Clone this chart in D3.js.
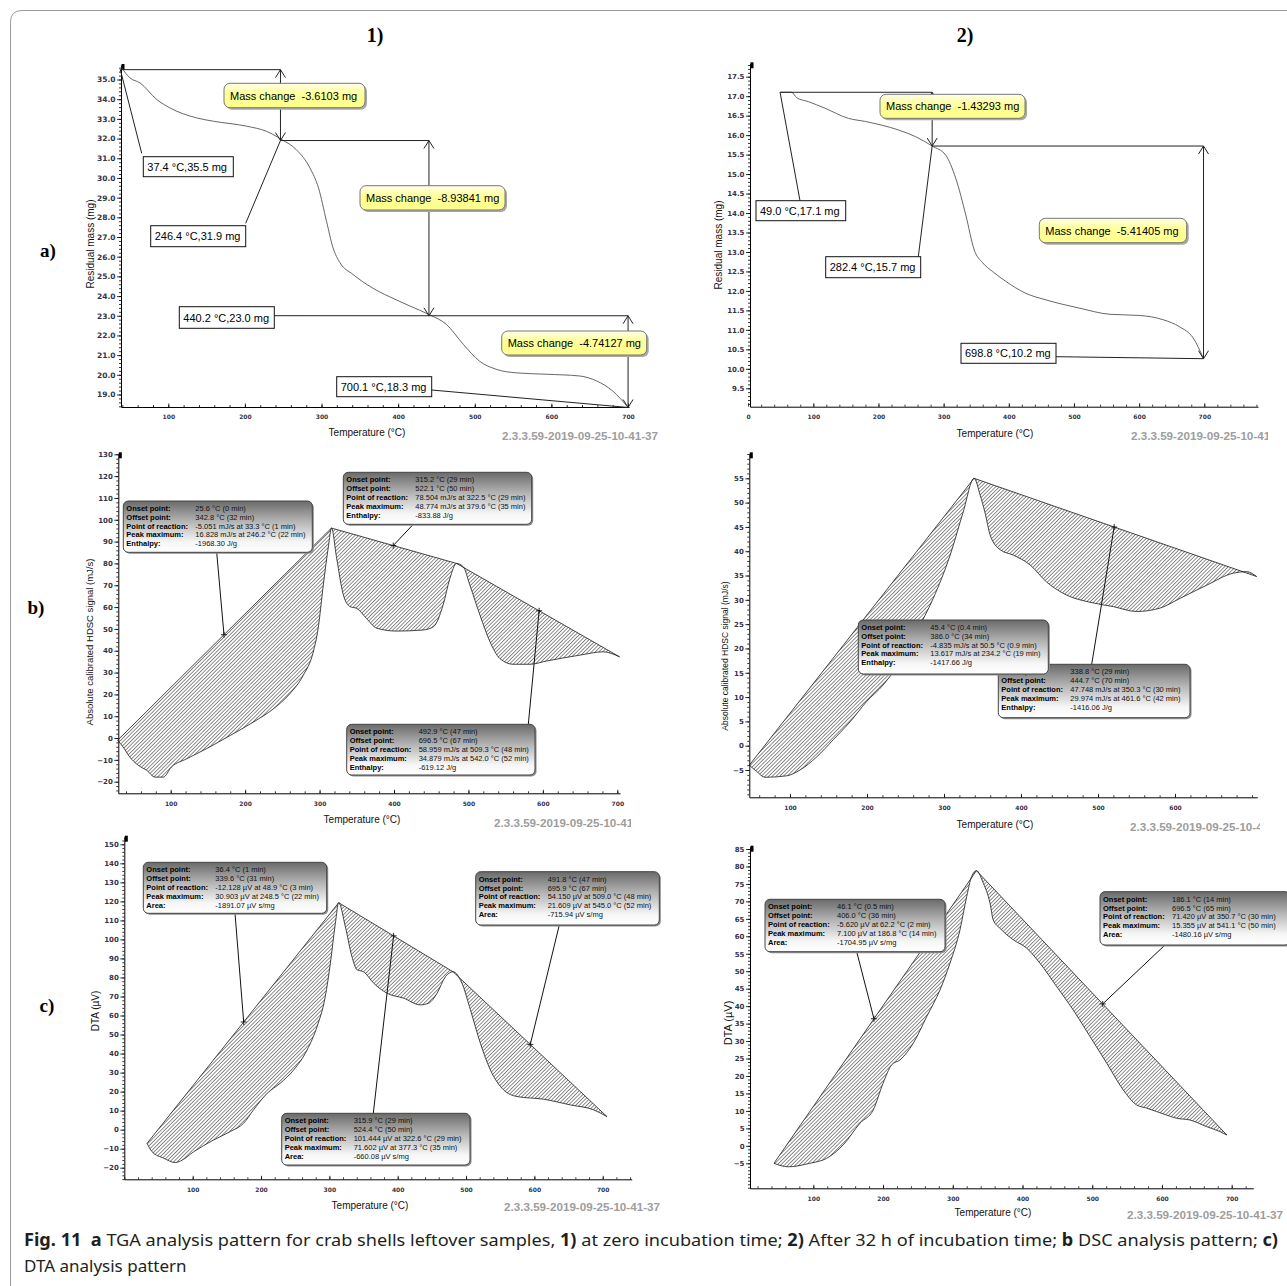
<!DOCTYPE html>
<html>
<head>
<meta charset="utf-8">
<script src="https://cdn.jsdelivr.net/npm/d3@7"></script>
<style>
body { margin: 0; background: #fff; }
svg { display: block; }
</style>
</head>
<body>
<div id="fig"></div>
<script>
// ---------- data ----------
// TGA curves: [temperature °C, residual mass mg]
var tga1 = [[39,35.6],[50,35.08],[63,34.83],[85,33.98],[102,33.56],[137,33.05],[159,32.88],[202,32.63],
  [228,32.37],[248,31.95],[267,31.44],[285,30.5],[296,29.5],[306.5,27.8],[315,26.45],[324,25.7],[341,25.1],
  [367,24.4],[398,23.8],[415,23.5],[441,23.05],[463,22.56],[485,21.55],[506,20.7],[528,20.28],[554,20.1],
  [593,20.03],[637,19.94],[659,19.69],[680,19.18],[700.1,18.34]];
var tga2 = [[49,17.1],[66.8,17.1],[74.5,16.96],[92.4,16.86],[118,16.69],[154,16.43],[180,16.35],[231,16.13],
  [257,15.96],[282.4,15.72],[303,15.49],[318.6,14.89],[334,13.95],[347,13.05],[360,12.72],[375,12.5],
  [395,12.25],[426,11.94],[457,11.77],[508,11.56],[555,11.4],[601,11.37],[637,11.26],[662,11.08],
  [683,10.79],[698.8,10.26]];
// TGA step points (from the labels)
var tgaSteps1 = [[37.4,35.5],[246.4,31.9],[440.2,23.0],[700.1,18.34]];
var tgaSteps2 = [[49.0,17.1],[282.4,15.72],[698.8,10.26]];
var tgaLabels1 = ["37.4 °C,35.5 mg","246.4 °C,31.9 mg","440.2 °C,23.0 mg","700.1 °C,18.3 mg"];
var tgaLabels2 = ["49.0 °C,17.1 mg","282.4 °C,15.7 mg","698.8 °C,10.2 mg"];
var massChange1 = ["Mass change  -3.6103 mg","Mass change  -8.93841 mg","Mass change  -4.74127 mg"];
var massChange2 = ["Mass change  -1.43293 mg","Mass change  -5.41405 mg"];

// DSC curves: [temperature °C, signal mJ/s]
var dsc1 = [[28.7,-1],[36,-4.1],[45,-8.7],[56.5,-12.5],[67.7,-14.8],[78.9,-17.9],[90,-17.9],[101,-13.3],
  [121.5,-9.5],[148,-4.9],[180,1.2],[211,7.3],[238,13.4],[260,20.3],[278,28.7],[291.5,39.4],[298,50],
  [305,70],[312,88],[316,96.2],[323,82.3],[332,65.5],[341,60.2],[350,59.4],[363,54.8],[377,50.3],
  [403.5,49],[439,49.5],[453,51],[466,61],[475,73],[484,80],[493,78.5],[502,70],[515.5,56.3],[529,44.1],
  [542,36.5],[560,33.8],[582.7,33.8],[605,35.3],[650,38],[681,39.5],[703,37.2]];
var dscBase1 = [[28.7,-1],[316,96.2],[484,80],[703,37.2]];
var dsc2 = [[47.2,-4],[56.7,-5.3],[67.5,-6.5],[95.7,-6.2],[113,-5],[134.7,-2.3],[156,1.2],[178,4.9],
  [199.6,9.1],[221,12.5],[243,17.3],[264.5,23.5],[286,30.3],[308,39.2],[325,48.1],[339,55],[347,51.5],
  [353,48.1],[360,43.3],[373,40.3],[390,39.2],[411.7,37.2],[433,33.7],[459,31],[489.6,29.5],[520,28.6],
  [550,27.6],[580.5,28.3],[606.5,30.3],[641,33],[676,35.5],[693,35.8],[706,34.8]];
var dscBase2 = [[47.2,-4],[339,55],[706,34.8]];

// DTA curves: [temperature °C, signal µV]
var dta1 = [[33.2,-7.2],[40.5,-11.6],[57.5,-15],[74.6,-17.3],[82,-16.5],[101.5,-11.6],[130.7,-5.4],
  [155,-1],[174.6,3.4],[189,10.4],[209,19.1],[228,24.4],[247.8,31.4],[267.4,41.9],[282,54.2],[294,69.9],
  [301.5,87.5],[308.8,108.5],[313.6,119.3],[323.4,106.7],[333,91],[340.5,84],[350,83],[364.8,77],
  [384.4,71.7],[408.8,69.1],[433,65.6],[445.4,66.5],[457.6,71.7],[469.8,80.4],[481,83],[494,77],
  [506.4,63],[521,45.4],[535.6,31.4],[555,20.9],[574.7,17.4],[613.6,16],[652.7,13],[686.8,10.4],[706.4,6.8]];
var dtaBase1 = [[33.2,-7.2],[313.6,119.3],[481,83],[706.4,6.8]];
var dta2 = [[43.6,-5],[64,-6],[95,-5],[119,-3.6],[143,0.3],[167,6.5],[186,10.3],[200,17.9],[212.4,23.2],
  [224.3,24.6],[243.4,29.4],[262.6,37],[281.6,44.6],[296,52.3],[310.3,61.8],[320,71.4],[327,77.1],
  [334,78.8],[343.8,75.2],[353.4,69.5],[358,64.7],[367.7,62.3],[386.8,59],[406,56.6],[425,52.3],
  [449,45.6],[472.8,38.9],[496.8,31.3],[520.7,23.7],[544.5,16],[563.7,11.7],[578,10.8],[606.8,8.8],
  [621,7.9],[640,7.4],[664,5.5],[683,4.1],[693,3.1]];
var dtaBase2 = [[43.6,-5],[334,78.8],[693,3.1]];

// leader marks on the baselines (temperature)
var dscMarks1 = [171.6, 399, 595];
var dscMarks2 = [521];
var dtaMarks1 = [174.6, 394, 594];
var dtaMarks2 = [187, 515];

// peak report boxes
var dscKeys = ["Onset point:","Offset point:","Point of reaction:","Peak maximum:","Enthalpy:"];
var dtaKeys = ["Onset point:","Offset point:","Point of reaction:","Peak maximum:","Area:"];
var dscText1 = [
  ["25.6 °C (0 min)","342.8 °C (32 min)","-5.051 mJ/s at 33.3 °C (1 min)","16.828 mJ/s at 246.2 °C (22 min)","-1968.30 J/g"],
  ["315.2 °C (29 min)","522.1 °C (50 min)","78.504 mJ/s at 322.5 °C (29 min)","48.774 mJ/s at 379.6 °C (35 min)","-833.88 J/g"],
  ["492.9 °C (47 min)","696.5 °C (67 min)","58.959 mJ/s at 509.3 °C (48 min)","34.879 mJ/s at 542.0 °C (52 min)","-619.12 J/g"]];
var dscText2 = [
  ["338.8 °C (29 min)","444.7 °C (70 min)","47.748 mJ/s at 350.3 °C (30 min)","29.974 mJ/s at 461.6 °C (42 min)","-1416.06 J/g"],
  ["45.4 °C (0.4 min)","386.0 °C (34 min)","-4.835 mJ/s at 50.5 °C (0.9 min)","13.617 mJ/s at 234.2 °C (19 min)","-1417.66 J/g"]];
var dtaText1 = [
  ["36.4 °C (1 min)","339.6 °C (31 min)","-12.128 µV at 48.9 °C (3 min)","30.903 µV at 248.5 °C (22 min)","-1891.07 µV s/mg"],
  ["315.9 °C (29 min)","524.4 °C (50 min)","101.444 µV at 322.6 °C (29 min)","71.602 µV at 377.3 °C (35 min)","-660.08 µV s/mg"],
  ["491.8 °C (47 min)","695.9 °C (67 min)","54.150 µV at 509.0 °C (48 min)","21.609 µV at 545.0 °C (52 min)","-715.94 µV s/mg"]];
var dtaText2 = [
  ["46.1 °C (0.5 min)","406.0 °C (36 min)","-5.620 µV at 62.2 °C (2 min)","7.100 µV at 186.8 °C (14 min)","-1704.95 µV s/mg"],
  ["186.1 °C (14 min)","696.5 °C (65 min)","71.420 µV at 350.7 °C (30 min)","15.355 µV at 541.1 °C (50 min)","-1480.16 µV s/mg"]];

// tick labels
var tempTicks = [100,200,300,400,500,600,700];
var tempTicks0 = [0,100,200,300,400,500,600,700];
var tempTicks6 = [100,200,300,400,500,600];
var massTicks1 = [19,20,21,22,23,24,25,26,27,28,29,30,31,32,33,34,35];
var massTicks2 = [9.5,10,10.5,11,11.5,12,12.5,13,13.5,14,14.5,15,15.5,16,16.5,17,17.5];
var dscTicks1 = [-20,-10,0,10,20,30,40,50,60,70,80,90,100,110,120,130];
var dscTicks2 = [-5,0,5,10,15,20,25,30,35,40,45,50,55];
var dtaTicks1 = [-20,-10,0,10,20,30,40,50,60,70,80,90,100,110,120,130,140,150];
var dtaTicks2 = [-5,0,5,10,15,20,25,30,35,40,45,50,55,60,65,70,75,80,85];

var stamp = "2.3.3.59-2019-09-25-10-41-37";

// ---------- drawing ----------
var svg = d3.select("#fig").append("svg")
    .attr("width", 1287)
    .attr("height", 1286)
    .style("font-family", "'Liberation Sans', Arial, sans-serif");

var defs = svg.append("defs");
defs.append("pattern")
    .attr("id", "hatch")
    .attr("patternUnits", "userSpaceOnUse")
    .attr("width", 2.6).attr("height", 10)
    .attr("patternTransform", "rotate(45)")
  .append("line")
    .attr("x1", 0.4).attr("y1", 0).attr("x2", 0.4).attr("y2", 10)
    .attr("stroke", "#2a2a2a").attr("stroke-width", 0.6);

var gg = defs.append("linearGradient").attr("id", "boxGrad")
    .attr("x1", 0).attr("y1", 0).attr("x2", 0).attr("y2", 1);
[[0, "#6a6a6a"], [0.4, "#b4b4b4"], [0.8, "#f6f6f6"], [1, "#ffffff"]].forEach(function (s) {
    gg.append("stop").attr("offset", s[0]).attr("stop-color", s[1]);
});
var yg = defs.append("linearGradient").attr("id", "yelGrad")
    .attr("x1", 0).attr("y1", 0).attr("x2", 0).attr("y2", 1);
[[0, "#ffffe8"], [0.4, "#ffff9e"], [1, "#ffff88"]].forEach(function (s) {
    yg.append("stop").attr("offset", s[0]).attr("stop-color", s[1]);
});
defs.append("clipPath").attr("id", "clipA2").append("rect")
    .attr("x", 1100).attr("y", 420).attr("width", 168).attr("height", 30);
defs.append("clipPath").attr("id", "clipB1").append("rect")
    .attr("x", 480).attr("y", 810).attr("width", 151).attr("height", 30);
defs.append("clipPath").attr("id", "clipB2").append("rect")
    .attr("x", 1100).attr("y", 810).attr("width", 160).attr("height", 30);

// figure frame
svg.append("path")
    .attr("d", "M10.5,1300 V22 Q10.5,10.5 22,10.5 H1300")
    .attr("fill", "none").attr("stroke", "#9a9a9a").attr("stroke-width", 1);

function setupPanel(c) {
    var xs = d3.scaleLinear().domain(c.xd).range(c.xr);
    var ys = d3.scaleLinear().domain(c.yd).range(c.yr);
    var x = d3.scaleLinear().domain(c.xa.map(function (v) { return xs.invert(v); })).range(c.xa);
    var y = d3.scaleLinear().domain(c.ya.map(function (v) { return ys.invert(v); })).range(c.ya);
    var g = svg.append("g").style("color", "#000");
    var xd = x.domain(), yd = y.domain();

    var xMinor = d3.range(Math.ceil(xd[0] / 20) * 20, xd[1], 20);
    var yMinor = d3.range(Math.ceil(yd[0] / c.ym - 1e-6) * c.ym, yd[1], c.ym);

    g.append("g").attr("transform", "translate(0," + c.ya[0] + ")")
        .call(d3.axisBottom(x).tickValues(xMinor).tickSize(-2).tickFormat("").tickSizeOuter(0))
        .call(function (a) { a.select(".domain").remove(); });
    var ax = g.append("g").attr("transform", "translate(0," + c.ya[0] + ")")
        .call(d3.axisBottom(x).tickValues(c.xt).tickSize(-3.5).tickPadding(8)
            .tickSizeOuter(0).tickFormat(d3.format("d")));
    ax.selectAll("text")
        .style("font-family", "'DejaVu Sans', sans-serif")
        .style("font-weight", "bold").style("font-size", "6px").attr("fill", "#33334a");

    g.append("g").attr("transform", "translate(" + c.xa[0] + ",0)")
        .call(d3.axisLeft(y).tickValues(yMinor).tickSize(2).tickFormat("").tickSizeOuter(0))
        .call(function (a) { a.select(".domain").remove(); });
    var ay = g.append("g").attr("transform", "translate(" + c.xa[0] + ",0)")
        .call(d3.axisLeft(y).tickValues(c.yt).tickSize(4).tickPadding(1.5)
            .tickSizeOuter(0).tickFormat(d3.format(c.fmt)));
    ay.selectAll("text")
        .style("font-family", "'DejaVu Sans', sans-serif")
        .style("font-weight", "bold").style("font-size", c.tf + "px").attr("fill", "#33334a");
    g.selectAll(".tick line").attr("stroke-width", 0.8);

    // little marker at the axis top
    g.append("rect").attr("x", c.xa[0] + 0.5).attr("y", c.ya[1] - 1)
        .attr("width", 3).attr("height", 6).attr("fill", "#000");

    g.append("text").attr("x", c.xt0[0]).attr("y", c.xt0[1])
        .attr("text-anchor", "middle").style("font-size", "10px").attr("fill", "#111")
        .text("Temperature (°C)");
    g.append("text")
        .attr("transform", "translate(" + c.yt0[0] + "," + c.yt0[1] + ") rotate(-90)")
        .attr("text-anchor", "middle").attr("dy", "0.35em")
        .style("font-size", c.yts + "px").attr("fill", "#111")
        .text(c.ytitle);
    var wm = g.append("text").attr("x", c.wm[0]).attr("y", c.wm[1])
        .style("font-size", "11px").style("font-weight", "bold").attr("fill", "#9d9d9d")
        .attr("textLength", 156).attr("lengthAdjust", "spacingAndGlyphs")
        .text(stamp);
    if (c.clip) wm.attr("clip-path", "url(#" + c.clip + ")");
    return { x: x, y: y, g: g };
}

function tgaPanel(P, curve, steps, labels, labelBoxes, changes, changeBoxes) {
    var line = d3.line().x(function (d) { return P.x(d[0]); }).y(function (d) { return P.y(d[1]); })
        .curve(d3.curveMonotoneX);
    P.g.append("path").datum(curve).attr("d", line)
        .attr("fill", "none").attr("stroke", "#555").attr("stroke-width", 0.9);

    var q = steps.map(function (d) { return [P.x(d[0]), P.y(d[1])]; });
    var ln = P.g.append("g").attr("stroke", "#222").attr("stroke-width", 1).attr("fill", "none");
    for (var i = 0; i < q.length - 1; i++) {
        var xa = q[i + 1][0], y1 = q[i][1], y2 = q[i + 1][1];
        ln.append("path").attr("d", "M" + q[i][0] + "," + y1 + "H" + xa);
        ln.append("path").attr("d", "M" + xa + "," + y1 + "V" + y2);
        ln.append("path").attr("d", "M" + (xa - 5) + "," + (y1 + 8) + "L" + xa + "," + y1 + "L" + (xa + 5) + "," + (y1 + 8));
        ln.append("path").attr("d", "M" + (xa - 5) + "," + (y2 - 8) + "L" + xa + "," + y2 + "L" + (xa + 5) + "," + (y2 - 8));
    }
    labels.forEach(function (t, i) {
        var b = labelBoxes[i];
        ln.append("path").attr("d", "M" + b.a[0] + "," + b.a[1] + "L" + q[i][0] + "," + q[i][1]);
        P.g.append("rect").attr("x", b.r[0]).attr("y", b.r[1]).attr("width", b.r[2]).attr("height", b.r[3])
            .attr("fill", "#fff").attr("stroke", "#111").attr("stroke-width", 1);
        P.g.append("text").attr("x", b.r[0] + 4).attr("y", b.r[1] + b.r[3] / 2 + 4)
            .style("font-size", "11px").attr("fill", "#000").text(t);
    });
    changes.forEach(function (t, i) {
        var r = changeBoxes[i];
        P.g.append("rect").attr("x", r[0] + 2).attr("y", r[1] + 2).attr("width", r[2]).attr("height", r[3])
            .attr("rx", 6).attr("fill", "#a8a8a8");
        P.g.append("rect").attr("x", r[0]).attr("y", r[1]).attr("width", r[2]).attr("height", r[3])
            .attr("rx", 6).attr("fill", "url(#yelGrad)").attr("stroke", "#777").attr("stroke-width", 1);
        P.g.append("text").attr("x", r[0] + 6).attr("y", r[1] + r[3] / 2 + 4)
            .style("font-size", "11px").style("white-space", "pre").attr("fill", "#000").text(t);
    });
}

function baseAt(knots, t) {
    for (var k = 0; k < knots.length - 1; k++) {
        if (t >= knots[k][0] && t <= knots[k + 1][0]) {
            var f = (t - knots[k][0]) / (knots[k + 1][0] - knots[k][0]);
            return knots[k][1] + f * (knots[k + 1][1] - knots[k][1]);
        }
    }
    return knots[knots.length - 1][1];
}

function peakPanel(P, curve, knots, marks, keys, texts, boxes, order) {
    var px = function (d) { return P.x(d[0]); }, py = function (d) { return P.y(d[1]); };
    var cPath = d3.line().x(px).y(py).curve(d3.curveMonotoneX)(curve);
    var back = knots.slice().reverse().map(function (d) { return "L" + P.x(d[0]) + "," + P.y(d[1]); }).join("");
    P.g.append("path").attr("d", cPath + back + "Z").attr("fill", "url(#hatch)");
    P.g.append("path").attr("d", cPath).attr("fill", "none").attr("stroke", "#1a1a1a").attr("stroke-width", 0.8);
    P.g.append("path").attr("d", d3.line().x(px).y(py)(knots))
        .attr("fill", "none").attr("stroke", "#1a1a1a").attr("stroke-width", 0.8);

    var pts = marks.map(function (t) { return [P.x(t), P.y(baseAt(knots, t))]; });
    boxes.forEach(function (b, i) {
        if (b.a && pts[i]) {
            P.g.append("path").attr("d", "M" + b.a[0] + "," + b.a[1] + "L" + pts[i][0] + "," + pts[i][1])
                .attr("stroke", "#111").attr("stroke-width", 1).attr("fill", "none");
        }
    });
    pts.forEach(function (p) {
        P.g.append("path").attr("d", "M" + (p[0] - 3) + "," + p[1] + "H" + (p[0] + 3) + "M" + p[0] + "," + (p[1] - 3) + "V" + (p[1] + 3))
            .attr("stroke", "#111").attr("stroke-width", 0.9);
    });
    order.forEach(function (i) {
        var r = boxes[i].r, bg = P.g.append("g");
        bg.append("rect").attr("x", r[0] + 1.5).attr("y", r[1] + 1.5).attr("width", r[2]).attr("height", r[3])
            .attr("rx", 5).attr("fill", "#8c8c8c");
        bg.append("rect").attr("x", r[0]).attr("y", r[1]).attr("width", r[2]).attr("height", r[3])
            .attr("rx", 5).attr("fill", "url(#boxGrad)").attr("stroke", "#444").attr("stroke-width", 1);
        keys.forEach(function (k, j) {
            bg.append("text").attr("x", r[0] + 3).attr("y", r[1] + 10 + j * 8.8)
                .style("font-size", "7.5px").style("font-weight", "bold").attr("fill", "#000").text(k);
            bg.append("text").attr("x", r[0] + 72).attr("y", r[1] + 10 + j * 8.8)
                .style("font-size", "7.5px").attr("fill", "#111").text(texts[i][j]);
        });
    });
}

// ---- panel a1 ----
var A1 = setupPanel({ xd: [100, 700], xr: [168.3, 628], xa: [121, 629], yd: [19, 35], yr: [394.5, 79.5], ya: [407, 65],
    xt: tempTicks, yt: massTicks1, fmt: ".1f", ym: 0.2, tf: 7.5,
    xt0: [367, 436], yt0: [90, 244], yts: 10, ytitle: "Residual mass (mg)", wm: [502, 440] });
tgaPanel(A1, tga1, tgaSteps1, tgaLabels1,
    [{ r: [143.3, 156.7, 90, 20], a: [141.7, 153.3] }, { r: [150.7, 225.7, 95, 21], a: [245.7, 223.3] },
     { r: [179.3, 306.7, 95, 21.6], a: [274.3, 315.7] }, { r: [336.7, 376.7, 95, 20], a: [431.7, 390] }],
    massChange1, [[224, 83.3, 141, 24.4], [360, 185.7, 145, 24.3], [501.7, 331, 145, 24]]);

// ---- panel a2 ----
var A2 = setupPanel({ xd: [100, 700], xr: [813.3, 1204.3], xa: [750, 1258], yd: [9.5, 17.5], yr: [388.3, 76.7], ya: [406.7, 63.3],
    xt: tempTicks0, yt: massTicks2, fmt: ".1f", ym: 0.1, tf: 7,
    xt0: [995, 437], yt0: [718, 245], yts: 10, ytitle: "Residual mass (mg)", wm: [1131, 440], clip: "clipA2" });
tgaPanel(A2, tga2, tgaSteps2, tgaLabels2,
    [{ r: [756, 200.7, 89.7, 20], a: [800, 200.7] }, { r: [825.7, 256.7, 95, 21], a: [918.3, 256.7] },
     { r: [961, 343.3, 95, 20], a: [1056, 356.7] }],
    massChange2, [[880, 94.3, 145, 24], [1039.3, 218.3, 147.4, 24.4]]);

// ---- panel b1 ----
var B1 = setupPanel({ xd: [100, 700], xr: [170.7, 617.3], xa: [118.3, 620], yd: [-20, 130], yr: [781.7, 454.3], ya: [793.3, 453.3],
    xt: tempTicks, yt: dscTicks1, fmt: "d", ym: 2, tf: 7,
    xt0: [362, 823], yt0: [90, 642], yts: 9.5, ytitle: "Absolute calibrated HDSC signal (mJ/s)", wm: [494, 827], clip: "clipB1" });
peakPanel(B1, dsc1, dscBase1, dscMarks1, dscKeys, dscText1,
    [{ r: [123.3, 501, 189, 51.3], a: [216.7, 552.3] }, { r: [343.3, 472.3, 188.4, 52], a: [413.3, 524.3] },
     { r: [346.7, 724.3, 188.3, 50.7], a: [528.3, 724.3] }], [0, 1, 2]);

// ---- panel b2 ----
var B2 = setupPanel({ xd: [100, 600], xr: [790, 1175], xa: [749.3, 1257.3], yd: [-5, 55], yr: [770, 478.3], ya: [797.3, 453.3],
    xt: tempTicks6, yt: dscTicks2, fmt: "d", ym: 1, tf: 7,
    xt0: [995, 828], yt0: [725, 656], yts: 8.5, ytitle: "Absolute calibrated HDSC signal (mJ/s)", wm: [1130, 831], clip: "clipB2" });
// the second report box sits under the first one here
peakPanel(B2, dsc2, dscBase2, dscMarks2, dscKeys, dscText2,
    [{ r: [998.3, 664.3, 191.7, 53.4], a: [1091.7, 664.3] }, { r: [858.3, 620, 190, 54] }], [0, 1]);

// ---- panel c1 ----
var C1 = setupPanel({ xd: [100, 700], xr: [192.7, 602.7], xa: [124.3, 631.7], yd: [-20, 150], yr: [1167.7, 844.3], ya: [1179.3, 836.7],
    xt: tempTicks, yt: dtaTicks1, fmt: "d", ym: 2, tf: 7,
    xt0: [370, 1209], yt0: [95, 1011], yts: 10, ytitle: "DTA (µV)", wm: [504, 1211] });
peakPanel(C1, dta1, dtaBase1, dtaMarks1, dtaKeys, dtaText1,
    [{ r: [143.3, 862.3, 183.4, 51], a: [235, 913.3] }, { r: [281.7, 1113.3, 188.3, 51.7], a: [373.3, 1113.3] },
     { r: [475.7, 871.7, 183.6, 53.3], a: [559.3, 925] }], [0, 1, 2]);

// ---- panel c2 ----
var C2 = setupPanel({ xd: [100, 700], xr: [813.3, 1231.7], xa: [750, 1253.3], yd: [-5, 85], yr: [1163.3, 849], ya: [1188.3, 846.7],
    xt: tempTicks, yt: dtaTicks2, fmt: "d", ym: 1, tf: 7,
    xt0: [993, 1216], yt0: [728, 1023], yts: 11, ytitle: "DTA (µV)", wm: [1127, 1219] });
peakPanel(C2, dta2, dtaBase2, dtaMarks2, dtaKeys, dtaText2,
    [{ r: [765, 899.3, 180, 52.4], a: [856.7, 951.7] }, { r: [1100, 891.7, 190, 53.3], a: [1165, 945] }], [0, 1]);

// ---- headers ----
var serif = "'Liberation Serif', 'Times New Roman', serif";
[["1)", 375, 42], ["2)", 965, 42]].forEach(function (h) {
    svg.append("text").attr("x", h[1]).attr("y", h[2]).attr("text-anchor", "middle")
        .style("font-family", serif).style("font-weight", "bold").style("font-size", "20px").text(h[0]);
});
[["a)", 48, 257], ["b)", 36, 614], ["c)", 47, 1012]].forEach(function (h) {
    svg.append("text").attr("x", h[1]).attr("y", h[2]).attr("text-anchor", "middle")
        .style("font-family", serif).style("font-weight", "bold").style("font-size", "19px").text(h[0]);
});

// ---- caption ----
var capParts = [["Fig. 11", 1], ["  ", 0], ["a", 1], [" TGA analysis pattern for crab shells leftover samples, ", 0],
    ["1)", 1], [" at zero incubation time; ", 0], ["2)", 1], [" After 32 h of incubation time; ", 0],
    ["b", 1], [" DSC analysis pattern; ", 0], ["c)", 1]];
var cap = svg.append("text").attr("x", 24).attr("y", 1246)
    .style("font-family", "'Noto Sans', 'Open Sans', sans-serif").style("font-size", "17px")
    .style("white-space", "pre").attr("fill", "#231f20")
    .attr("textLength", 1254).attr("lengthAdjust", "spacingAndGlyphs");
capParts.forEach(function (p) {
    cap.append("tspan").style("font-weight", p[1] ? "bold" : "normal").text(p[0]);
});
svg.append("text").attr("x", 24).attr("y", 1272)
    .style("font-family", "'Noto Sans', 'Open Sans', sans-serif").style("font-size", "17px")
    .attr("fill", "#231f20").text("DTA analysis pattern");
</script>
</body>
</html>
